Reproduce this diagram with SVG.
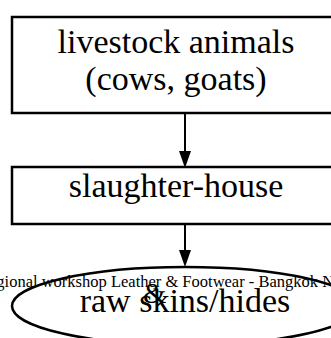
<svg xmlns="http://www.w3.org/2000/svg" width="331" height="338" viewBox="0 0 331 338">
<style>
.box{fill:#fff;stroke:#000;stroke-width:2.5}
.lbl{font-family:"Liberation Serif","Times New Roman",serif;font-size:34px;fill:#000;text-anchor:middle}
.cap{font-family:"Liberation Serif","Times New Roman",serif;font-size:16.5px;fill:#000}
.line{stroke:#000;stroke-width:2;fill:none}
.head{fill:#000}
</style>
<rect width="331" height="338" fill="#fff"/>
<g id="n1">
<rect class="box" x="12" y="17" width="330" height="96"/>
<text class="lbl" x="176" y="53">livestock animals</text>
<text class="lbl" x="176" y="90">(cows, goats)</text>
</g>
<g id="n2">
<rect class="box" x="12" y="167" width="330" height="57"/>
<text class="lbl" x="176" y="197">slaughter-house</text>
</g>
<g id="n3">
<ellipse class="box" cx="185" cy="306" rx="173" ry="39"/>
<text class="lbl" x="185" y="312">raw skins/hides</text>
</g>
<g id="edges">
<path class="line" d="M185,113 V152"/>
<path class="head" d="M179,151 L191,151 L185,168 Z"/>
<path class="line" d="M185,224 V252"/>
<path class="head" d="M179,250 L191,250 L185,267 Z"/>
</g>
<text class="cap" x="-22" y="287">Regional workshop Leather &amp; Footwear - Bangkok Nov</text>
<text font-family="Liberation Serif, serif" font-size="30" x="143" y="303" fill="#000">&amp;</text>
</svg>
